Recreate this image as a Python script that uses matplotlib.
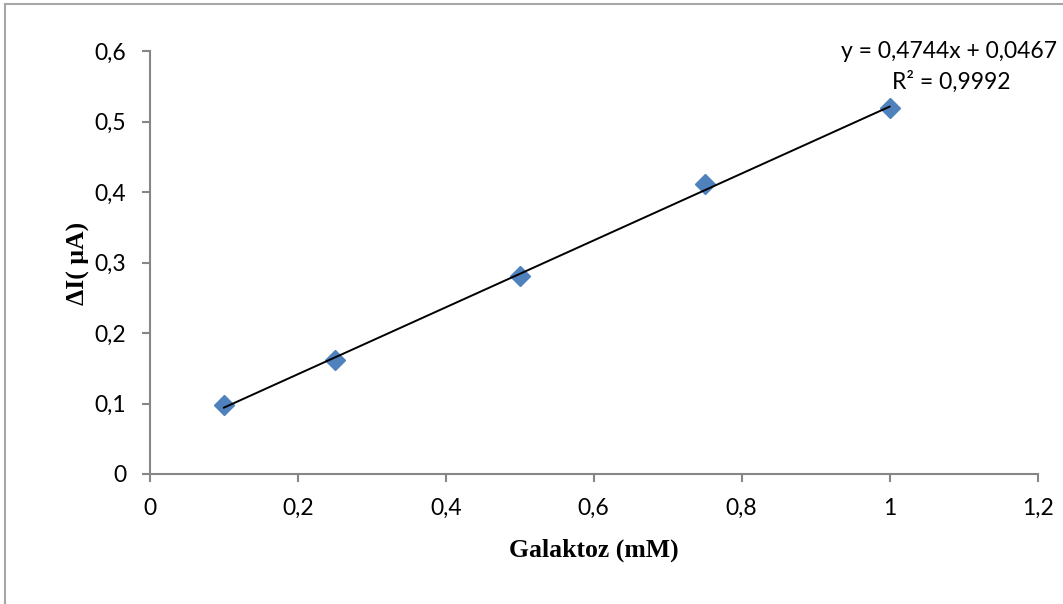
import matplotlib
matplotlib.use("Agg")
import matplotlib.pyplot as plt
import numpy as np
from matplotlib.lines import Line2D

# Calibration data: galactose concentration vs. current change
galactose_mM = [0.1, 0.25, 0.5, 0.75, 1.0]
delta_I_uA = [0.098, 0.162, 0.281, 0.411, 0.519]

slope = 0.4744
intercept = 0.0467
r_squared = 0.9992

x_ticks = [0, 0.2, 0.4, 0.6, 0.8, 1.0, 1.2]
y_ticks = [0, 0.1, 0.2, 0.3, 0.4, 0.5, 0.6]


def comma(v):
    s = f"{v:g}"
    return s.replace(".", ",")


W, H = 1063, 604
fig = plt.figure(figsize=(W / 100, H / 100), dpi=100)
ax = fig.add_axes([150 / W, (H - 474) / H, (1037.5 - 150) / W, (474 - 51) / H])

tick_font = {"family": ["Lato", "DejaVu Sans"], "size": 16.5}
axis_gray = "#868686"

ax.plot(galactose_mM, delta_I_uA, linestyle="none", marker="D",
        markersize=10, color="#4F81BD", zorder=2)

fit_x = np.array([galactose_mM[0], galactose_mM[-1]])
ax.plot(fit_x, slope * fit_x + intercept, color="black", linewidth=1.4, zorder=3)

ax.set_xlim(0, 1.2)
ax.set_ylim(0, 0.6)
ax.set_xticks(x_ticks)
ax.set_yticks(y_ticks)
ax.set_xticklabels([comma(v) for v in x_ticks], fontdict=tick_font)
ax.set_yticklabels([comma(v) for v in y_ticks], fontdict=tick_font)

for side in ("top", "right"):
    ax.spines[side].set_visible(False)
for side in ("left", "bottom"):
    ax.spines[side].set_color(axis_gray)
    ax.spines[side].set_linewidth(1.5)
ax.tick_params(axis="both", direction="out", length=6, width=1.5,
               color=axis_gray, labelcolor="black")
ax.tick_params(axis="x", pad=11)
ax.tick_params(axis="y", pad=11)

label_font = {"family": "Liberation Serif", "weight": "bold", "size": 18.5}
fig.text(593.5 / W, 1 - 550 / H, "Galaktoz (mM)", ha="center", va="center",
         fontdict=label_font)
fig.text(78 / W, 1 - 263 / H, "ΔI( μA)", ha="center", va="center",
         rotation=90, fontdict=label_font)

eq_font = {"family": ["Lato", "DejaVu Sans"], "size": 16.5}
fig.text(949 / W, 1 - 51 / H,
         f"y = {comma(slope)}x + {comma(intercept)}",
         ha="center", va="center", fontdict=eq_font)
fig.text(951 / W, 1 - 82 / H, f"R² = {comma(r_squared)}",
         ha="center", va="center", fontdict=eq_font)

# chart-area frame (left and top edges)
frame_kw = dict(color="#A6A6A6", linewidth=1.5, transform=fig.transFigure)
fig.add_artist(Line2D([4.5 / W, 4.5 / W], [0, 1 - 3.5 / H], **frame_kw))
fig.add_artist(Line2D([4.5 / W, 1], [1 - 3.5 / H, 1 - 3.5 / H], **frame_kw))

fig.savefig("out.png", dpi=100)
